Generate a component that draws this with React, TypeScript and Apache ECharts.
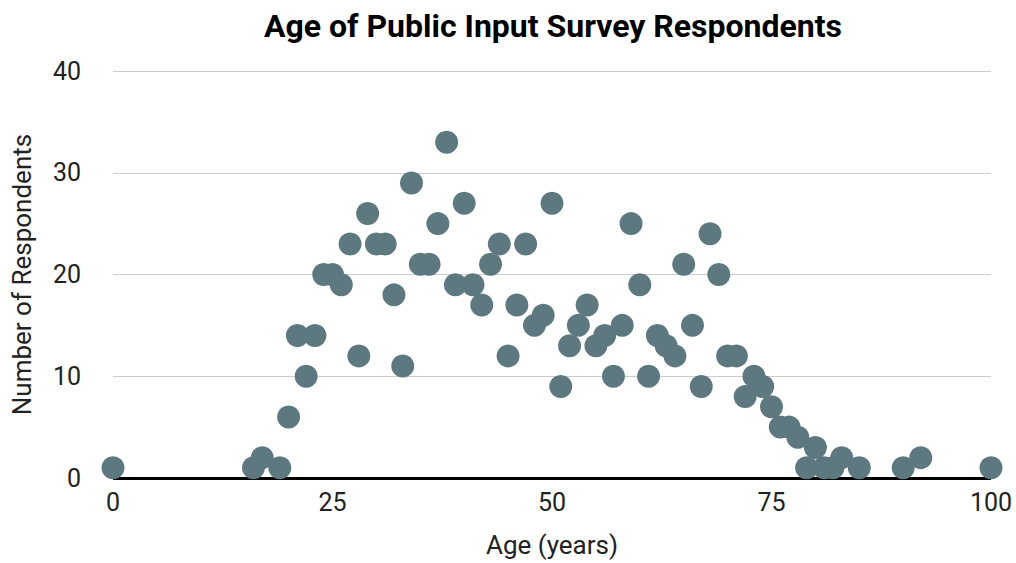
import React, { useEffect, useRef } from "react";
import * as echarts from "echarts";

const ages = [0, 16, 17, 19, 20, 21, 22, 23, 24, 25, 26, 27, 28, 29, 30, 31, 32, 33, 34, 35, 36, 37, 38, 39, 40, 41, 42, 43, 44, 45, 46, 47, 48, 49, 50, 51, 52, 53, 54, 55, 56, 57, 58, 59, 60, 61, 62, 63, 64, 65, 66, 67, 68, 69, 70, 71, 72, 73, 74, 75, 76, 77, 78, 79, 80, 81, 82, 83, 85, 90, 92, 100];
const counts = [1, 1, 2, 1, 6, 14, 10, 14, 20, 20, 19, 23, 12, 26, 23, 23, 18, 11, 29, 21, 21, 25, 33, 19, 27, 19, 17, 21, 23, 12, 17, 23, 15, 16, 27, 9, 13, 15, 17, 13, 14, 10, 15, 25, 19, 10, 14, 13, 12, 21, 15, 9, 24, 20, 12, 12, 8, 10, 9, 7, 5, 5, 4, 1, 3, 1, 1, 2, 1, 1, 2, 1];

const title = "Age of Public Input Survey Respondents";
const xName = "Age (years)";
const yName = "Number of Respondents";

export default function App() {
  const ref = useRef<HTMLDivElement>(null);
  useEffect(() => {
    if (!ref.current) return;
    const chart = echarts.init(ref.current, undefined, { renderer: "svg" });
    const font = "Roboto, 'Noto Sans', sans-serif";
    chart.setOption({
      animation: false,
      backgroundColor: "#ffffff",
      textStyle: { fontFamily: font },
      title: {
        text: title,
        left: 548,
        textAlign: "center",
        top: 5,
        textStyle: { fontFamily: font, fontSize: 32, fontWeight: "bold", color: "#000" },
      },
      grid: { left: 113, right: 25, top: 71, bottom: 84 },
      xAxis: {
        type: "value",
        min: 0,
        max: 100,
        interval: 25,
        name: xName,
        nameLocation: "middle",
        nameGap: 54,
        nameTextStyle: { fontSize: 26, color: "#222", fontFamily: font },
        axisLine: { show: false },
        axisTick: { show: false },
        splitLine: { show: false },
        axisLabel: { fontSize: 25, color: "#222", margin: 12, fontFamily: font },
      },
      yAxis: {
        type: "value",
        min: 0,
        max: 40,
        interval: 10,
        name: yName,
        nameLocation: "middle",
        nameGap: 78,
        nameTextStyle: { fontSize: 26, color: "#222", fontFamily: font },
        axisLine: { show: false },
        axisTick: { show: false },
        splitLine: { lineStyle: { color: "#cccccc", width: 1 } },
        axisLabel: { fontSize: 25, color: "#222", margin: 32, fontFamily: font },
      },
      series: [
        {
          type: "scatter",
          data: ages.map((a, i) => [a, counts[i]]),
          symbolSize: 23,
          itemStyle: { color: "#5e7880", opacity: 1 },
          z: 3,
          markLine: {
            silent: true,
            symbol: "none",
            label: { show: false },
            lineStyle: { color: "#000", width: 3, type: "solid" },
            data: [{ yAxis: 0 }],
            z: 2,
          },
        },
      ],
    });
    return () => chart.dispose();
  }, []);
  return <div ref={ref} style={{ width: 1016, height: 563, position: "absolute", left: 0, top: 0 }} />;
}
